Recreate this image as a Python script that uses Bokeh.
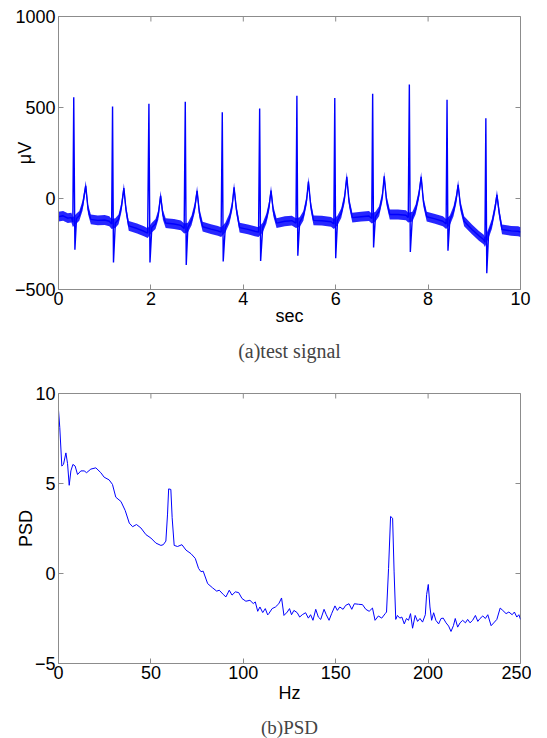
import math
from bokeh.plotting import figure
from bokeh.models import Range1d, FixedTicker, Title
from bokeh.layouts import column
from bokeh.embed import file_html
from bokeh.resources import INLINE

# ---------------- data: (a) test signal (ECG trace vertices) ----------------
ecg_t = [0.00, 0.10, 0.20, 0.28, 0.31, 0.33, 0.355, 0.39, 0.45, 0.52, 0.59, 0.64, 0.70, 0.85, 1.00,
         1.10, 1.15, 1.17, 1.19, 1.23, 1.30, 1.36, 1.415, 1.46, 1.52, 1.70, 1.85,
         1.93, 1.957, 1.98, 2.02, 2.10, 2.16, 2.21, 2.26, 2.32, 2.50, 2.65,
         2.72, 2.744, 2.765, 2.80, 2.88, 2.95, 3.00, 3.05, 3.12, 3.30, 3.45,
         3.52, 3.545, 3.565, 3.61, 3.70, 3.76, 3.80, 3.85, 3.92, 4.10, 4.25,
         4.33, 4.354, 4.375, 4.42, 4.50, 4.56, 4.60, 4.65, 4.72, 4.90, 5.05,
         5.14, 5.16, 5.18, 5.22, 5.30, 5.37, 5.41, 5.46, 5.52, 5.70, 5.90,
         5.96, 5.98, 6.00, 6.04, 6.12, 6.19, 6.24, 6.29, 6.36, 6.55, 6.72,
         6.78, 6.80, 6.82, 6.86, 6.94, 7.01, 7.05, 7.10, 7.17, 7.35, 7.52,
         7.57, 7.594, 7.615, 7.66, 7.73, 7.80, 7.85, 7.90, 7.97, 8.15, 8.32,
         8.39, 8.41, 8.43, 8.47, 8.55, 8.61, 8.65, 8.70, 8.78, 8.95, 9.10, 9.20,
         9.23, 9.25, 9.27, 9.31, 9.38, 9.45, 9.49, 9.54, 9.60, 9.80, 9.95, 10.0]
ecg_v = [-100, -95, -108, -105, -130, 556, -281, -110, -95, -40, 70, -60, -115, -120, -118,
         -125, -140, 506, -352, -135, -115, -50, 57, -60, -150, -165, -180,
         -190, 520, -352, -160, -140, -90, 15, -90, -135, -140, -148,
         -165, 531, -365, -160, -120, -50, 42, -80, -155, -168, -178,
         -185, 474, -346, -160, -110, -40, 61, -60, -160, -170, -180,
         -185, 494, -343, -160, -110, -40, 43, -70, -135, -125, -122,
         -135, 565, -315, -130, -95, -10, 93, -40, -120, -122, -128,
         -140, 552, -328, -120, -80, 0, 119, -20, -105, -100, -96,
         -110, 576, -269, -100, -70, 10, 122, -10, -88, -88, -92,
         -105, 626, -294, -100, -60, 20, 119, -20, -100, -112, -125,
         -140, 543, -287, -120, -70, 0, 75, -40, -125, -170, -205, -225,
         -240, 441, -411, -190, -140, -50, 20, -80, -170, -178, -180, -185]
ecg_noise = 27  # half-height of the noise band around the slow wave, in microvolts

ecg_xticks = [0, 2, 4, 6, 8, 10]
ecg_yticks = [-500, 0, 500, 1000]

# ---------------- data: (b) PSD ----------------
psd_f = [0, 0.7, 1.8, 2.7, 4.0, 4.9, 5.8, 6.7, 7.8, 9.0, 10.3, 12.1, 13.9, 15.2, 17.5, 20.2,
         22.9, 24.7, 27.4, 29.2, 31.0, 33.8, 36.1, 38.3, 40.1, 42.2, 44.6, 47.3, 50.0, 52.7,
         55.4, 56.7, 58.1, 59.0, 59.6, 60.8, 61.5, 62.6, 64.4, 66.8, 69.0, 71.7, 74.0, 75.8,
         77.1, 78.3, 80.7, 83.4, 85.6, 87.0, 89.2, 90.6, 92.4, 93.9, 95.7, 97.5, 99.3, 101.4,
         103.6, 105.4, 106.5, 107.8, 109.0, 110.5, 111.9, 113.2, 113.8, 115.6, 117.4, 119.2,
         120.7, 122.0, 123.8, 125.0, 126.1, 127.4, 129.2, 130.5, 131.9, 133.7, 135.2, 136.4,
         137.7, 139.2, 140.6, 141.9, 143.7, 144.9, 146.4, 147.8, 149.6, 150.9, 152.2, 154.0,
         155.4, 157.2, 158.7, 160.1, 162.3, 164.5, 166.3, 168.1, 169.9, 171.3, 173.1, 174.9,
         176.8, 177.5, 178.6, 179.7, 180.8, 181.6, 182.5, 183.4, 184.7, 185.8, 187.1, 188.3,
         189.4, 190.5, 191.6, 193.0, 194.3, 195.6, 197.0, 198.5, 199.2, 200.1, 201.0, 201.9,
         203.0, 204.2, 205.7, 207.0, 208.2, 209.7, 211.1, 212.4, 213.7, 214.7, 216.0, 217.3,
         218.7, 220.2, 221.4, 222.7, 224.1, 225.6, 226.9, 228.1, 229.6, 231.0, 232.3, 234.1,
         235.9, 237.2, 239.0, 240.4, 242.2, 243.7, 245.5, 246.7, 248.0, 249.1, 250.0]
psd_v = [9.07, 8.1, 5.97, 6.06, 6.7, 6.1, 4.9, 5.7, 6.06, 5.97, 5.5, 5.7, 5.7, 5.6, 5.8, 5.87,
         5.6, 5.35, 5.2, 4.95, 4.24, 4.0, 3.5, 2.8, 2.6, 2.72, 2.53, 2.16, 1.97, 1.69,
         1.56, 1.6, 1.8, 3.3, 4.7, 4.67, 3.1, 1.56, 1.5, 1.6, 1.3, 1.1, 0.84, 0.28,
         0.1, 0.13, -0.56, -0.8, -0.98, -0.93, -1.17, -1.3, -0.93, -1.2, -1.02, -1.06, -1.39, -1.54,
         -1.49, -1.67, -1.58, -2.1, -1.86, -2.17, -1.95, -2.3, -2.23, -1.95, -1.86, -1.68,
         -1.36, -2.33, -2.14, -1.95, -2.29, -2.05, -2.18, -2.42, -2.29, -2.18, -2.48, -2.29,
         -2.6, -1.99, -2.42, -2.55, -1.99, -2.29, -2.6, -2.23, -1.8, -2.05, -1.86, -1.99,
         -1.77, -1.68, -1.99, -1.68, -1.71, -1.73, -1.99, -2.1, -1.92, -2.6, -2.36, -2.48,
         -2.23, -2.14, 0.28, 3.17, 3.07, 0.09, -2.55, -2.33, -2.48, -2.42, -2.8, -2.5,
         -2.6, -2.23, -3.04, -2.33, -2.66, -2.5, -2.7, -2.29, -1.17, -0.61, -1.86, -2.6,
         -2.18, -2.6, -2.8, -2.5, -2.48, -2.74, -2.92, -3.22, -2.9, -2.5, -2.98, -2.74,
         -2.6, -2.74, -2.55, -2.74, -2.6, -2.33, -2.66, -2.5, -2.36, -2.5, -2.29, -2.9,
         -2.7, -2.55, -1.92, -2.05, -2.23, -2.14, -2.29, -2.14, -2.42, -2.29, -2.55]

psd_xticks = [0, 50, 100, 150, 200, 250]
psd_yticks = [-5, 0, 5, 10]

SANS = "Liberation Sans"
SERIF = "Liberation Serif"
AX = "#8c8c8c"
BLUE = "#0000ff"


def style(p, xticks, yticks, xr, yr, xlabel, ylabel, xl_standoff, yl_standoff):
    p.outline_line_color = AX
    p.outline_line_width = 1
    p.xgrid.visible = False
    p.ygrid.visible = False
    for ax in p.xaxis + p.yaxis:
        ax.axis_line_color = AX
        ax.major_tick_line_color = AX
        ax.major_tick_in = 5
        ax.major_tick_out = 0
        ax.minor_tick_line_color = None
        ax.major_label_text_font = SANS
        ax.major_label_text_font_size = "18px"
        ax.major_label_text_color = "black"
        ax.axis_label_text_font = SANS
        ax.axis_label_text_font_size = "18px"
        ax.axis_label_text_font_style = "normal"
        ax.axis_label_text_color = "black"
    p.xaxis.ticker = FixedTicker(ticks=xticks)
    p.yaxis.ticker = FixedTicker(ticks=yticks)
    p.xaxis.axis_label = xlabel
    p.yaxis.axis_label = ylabel
    p.xaxis.major_label_standoff = 2
    p.yaxis.major_label_standoff = 3
    p.xaxis.axis_label_standoff = xl_standoff
    p.yaxis.axis_label_standoff = yl_standoff
    # inward tick marks on the top and right edges (box style), clipped to the frame
    p.scatter(xticks, [yr[1]] * len(xticks), marker="dash", size=10, angle=math.pi / 2,
              line_color=AX, line_width=1)
    p.scatter([xr[1]] * len(yticks), yticks, marker="dash", size=10,
              line_color=AX, line_width=1)


# ---------------- figure (a) ----------------
xr1, yr1 = (0, 10), (-500, 1000)
p1 = figure(frame_width=462, frame_height=273,
            x_range=Range1d(*xr1), y_range=Range1d(*yr1),
            output_backend="svg", toolbar_location=None,
            min_border_left=58, min_border_right=11, min_border_top=16, min_border_bottom=0)

band_t = [t for t, v in zip(ecg_t, ecg_v) if -250 < v < 200]
band_v = [v for v in ecg_v if -250 < v < 200]
p1.varea(x=band_t, y1=[v - ecg_noise for v in band_v], y2=[v + ecg_noise for v in band_v],
         fill_color=BLUE, fill_alpha=0.85)
p1.line(ecg_t, ecg_v, line_color=BLUE, line_width=1.4)
style(p1, ecg_xticks, ecg_yticks, xr1, yr1, "sec", "\u03bcV", -2, -23)
p1.add_layout(Title(text="(a)test signal", align="center", text_font=SERIF,
                    text_font_size="20px", text_font_style="normal", standoff=18), "below")

# ---------------- figure (b) ----------------
xr2, yr2 = (0, 250), (-5, 10)
p2 = figure(frame_width=462, frame_height=270,
            x_range=Range1d(*xr2), y_range=Range1d(*yr2),
            output_backend="svg", toolbar_location=None,
            min_border_left=58, min_border_right=11, min_border_top=23, min_border_bottom=0)
p2.line(psd_f, psd_v, line_color=BLUE, line_width=1)
style(p2, psd_xticks, psd_yticks, xr2, yr2, "Hz", "PSD", 1, -4)
p2.add_layout(Title(text="(b)PSD", align="center", text_font=SERIF,
                    text_font_size="19px", text_font_style="normal", standoff=19), "below")

layout = column(p1, p2, spacing=0)
open("out.html", "w").write(file_html(layout, INLINE))
